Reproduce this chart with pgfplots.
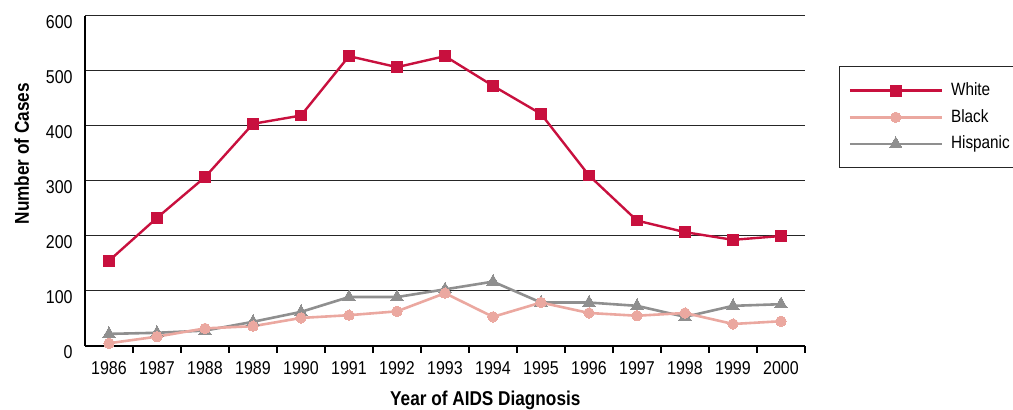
\documentclass[border=0pt]{standalone}
\usepackage{fontspec}
\setmainfont{Liberation Sans}[FakeStretch=0.86]
\usepackage{pgfplots}
\pgfplotsset{compat=1.18}
\definecolor{whiteC}{HTML}{C8103E}
\definecolor{blackC}{HTML}{EBA8A0}
\definecolor{hispC}{HTML}{8F8F8F}

\begin{document}
\begin{tikzpicture}
\useasboundingbox (-42.5pt,-32pt) rectangle (464pt,173pt);
\begin{axis}[
  at={(0,0)}, anchor=south west,
  width=360pt, height=165pt, scale only axis,
  xmin=1985.5, xmax=2000.5, ymin=0, ymax=600,
  clip=false,
  axis x line*=bottom, axis y line*=left,
  axis line style={line width=1.3pt, black, -},
  xtick={1986,...,2000}, ytick={0,100,...,600},
  major tick length=0pt,
  extra x ticks={1986.5,1987.5,...,2000.5},
  extra x tick labels={},
  extra x tick style={major tick length=3.5pt, xtick align=outside,
    tick style={line width=1.2pt, black}},
  ymajorgrids, major grid style={black!85, line width=0.5pt},
  /pgf/number format/assume math mode=true,
  /pgf/number format/1000 sep={},
  ticklabel style={font=\fontsize{9.3}{10}\selectfont},
  xticklabel style={anchor=center, yshift=-11.3pt},
  yticklabel style={anchor=east, inner sep=0pt, xshift=-6pt, yshift=-3.2pt},
  xlabel={\bfseries Year of AIDS Diagnosis},
  ylabel={\bfseries Number of Cases},
  label style={font=\fontsize{10}{11}\selectfont},
  xlabel style={at={(axis description cs:0.556,-0.164)}, anchor=center},
  ylabel style={at={(axis description cs:-0.088,0.583)}, anchor=center, rotate=0},
  reverse legend,
  legend cell align=left,
  legend image code/.code={
    \path (0pt,0pt);
    \draw[#1, mark repeat=2, mark phase=2] plot coordinates {(3.5pt,0pt)(26.5pt,0pt)(49.5pt,0pt)};
  },
  legend style={at={(axis description cs:1.0472,0.847)}, anchor=north west,
    draw=black!85, line width=0.5pt, inner xsep=1pt, inner ysep=5.2pt,
    font=\fontsize{8.9}{10}\selectfont,
    nodes={inner sep=1pt, text depth=0.15em, minimum height=13.3pt},
    /tikz/every odd column/.append style={column sep=3pt}},
]
\addplot[color=hispC, line width=1.3pt, mark=triangle*, mark size=3.5pt,
  mark options={fill=hispC, draw=hispC, line width=0pt}] coordinates {
  (1986,22) (1987,24) (1988,28) (1989,44) (1990,62) (1991,89) (1992,89)
  (1993,103) (1994,117) (1995,79) (1996,79) (1997,73) (1998,53) (1999,73) (2000,76)};
\addlegendentry{Hispanic}
\addplot[color=blackC, line width=1.3pt, mark=*, mark size=2.6pt,
  mark options={fill=blackC, draw=blackC, line width=0pt}] coordinates {
  (1986,5) (1987,17) (1988,32) (1989,36) (1990,51) (1991,56) (1992,63)
  (1993,96) (1994,53) (1995,79) (1996,60) (1997,55) (1998,60) (1999,40) (2000,45)};
\addlegendentry{Black}
\addplot[color=whiteC, line width=1.2pt, mark=square*, mark size=2.7pt,
  mark options={fill=whiteC, draw=whiteC, line width=0pt}] coordinates {
  (1986,155) (1987,233) (1988,307) (1989,404) (1990,419) (1991,527) (1992,507)
  (1993,527) (1994,473) (1995,422) (1996,310) (1997,228) (1998,207) (1999,193) (2000,200)};
\addlegendentry{White}
\end{axis}
\end{tikzpicture}
\end{document}
